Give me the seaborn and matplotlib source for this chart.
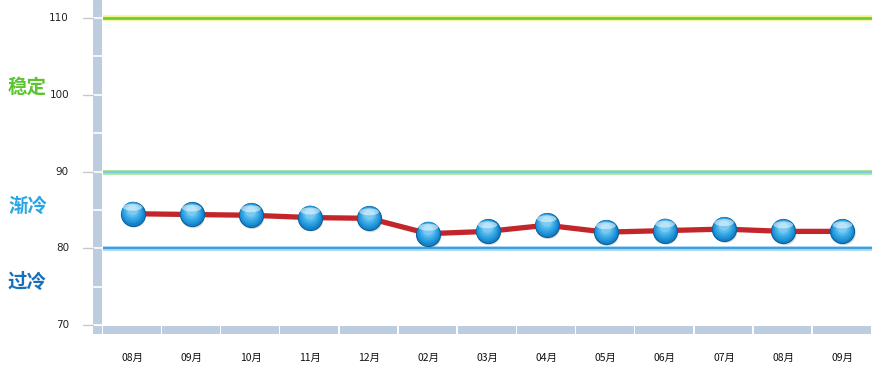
import numpy as np
import pandas as pd
import matplotlib
matplotlib.use("Agg")
import matplotlib.pyplot as plt
import matplotlib.transforms as mtransforms
from matplotlib.patches import Rectangle
import seaborn as sns

months = ["08月", "09月", "10月", "11月", "12月", "02月", "03月", "04月", "05月", "06月", "07月", "08月", "09月"]
values = [84.5, 84.4, 84.3, 84.0, 83.9, 81.9, 82.2, 83.0, 82.1, 82.3, 82.5, 82.2, 82.2]
y_ticks = [70, 80, 90, 100, 110]
zone_labels = ["稳定", "渐冷", "过冷"]
zone_values = [101, 85.5, 75.5]
zone_colors = ["#5cc431", "#29a6e3", "#1a70b8"]

sns.set_theme(style="white")
plt.rcParams['font.family'] = ['Noto Sans CJK SC', 'DejaVu Sans']

W, H = 885, 379
fig = plt.figure(figsize=(W / 100, H / 100), dpi=100)
ax = fig.add_axes([103 / W, (H - 325) / H, 769 / W, 325 / H])
ax.set_xlim(-0.5, len(months) - 0.5)
ax.set_ylim(70, 112.35)
for s in ax.spines.values():
    s.set_visible(False)
ax.set_xticks([])
ax.set_yticks([])
ax.patch.set_alpha(0)

band = "#bccddf"
def px_rect(x0, y0, x1, y1, color):
    fig.add_artist(Rectangle((x0 / W, (H - y1) / H), (x1 - x0) / W, (y1 - y0) / H,
                             transform=fig.transFigure, facecolor=color, edgecolor="none", zorder=-1))

# left band and corner
px_rect(93, 0, 102, 325, band)
px_rect(93, 326, 102, 334, band)
# bottom segments
n = len(months)
seg = 769 / n
for i in range(n):
    px_rect(103 + i * seg, 326, 103 + (i + 1) * seg - 1.5, 334, band)

# white lines across band and grey ticks
blend = mtransforms.blended_transform_factory(fig.transFigure, ax.transData)
for v in np.arange(70, 112, 5):
    ax.plot([93 / W, 102 / W], [v, v], transform=blend, color="white", lw=1.2, clip_on=False, zorder=3)
for v in y_ticks:
    ax.plot([83 / W, 93 / W], [v, v], transform=blend, color="#c8c8c8", lw=1, clip_on=False, zorder=3)
    ax.text(69 / W, v, str(v), transform=blend, ha="right", va="center", fontsize=7.5, color="#222222",
            family=["DejaVu Sans"])

# reference lines
ax.axhline(110, color="#f3f38a", lw=4, zorder=1)
ax.axhline(110, color="#6ccf3e", lw=2, zorder=2)
ax.axhline(90, color="#a9e6a0", lw=3.5, zorder=1)
ax.axhline(90, color="#7ccce0", lw=1.5, zorder=2)
ax.axhline(80, color="#a8d8f5", lw=3.5, zorder=1)
ax.axhline(80, color="#3f9fde", lw=1.5, zorder=2)

# zone labels
for lab, v, c in zip(zone_labels, zone_values, zone_colors):
    ax.text(8 / W, v, lab, transform=blend, ha="left", va="center", fontsize=14, fontweight="bold", color=c)

# month labels
for i, m in enumerate(months):
    ax.text(i, -0.1, m, transform=mtransforms.blended_transform_factory(ax.transData, ax.transAxes),
            ha="center", va="center", fontsize=7.5, color="#111111")

df = pd.DataFrame({"idx": np.arange(n), "value": values})

sns.lineplot(data=df, x="idx", y="value", ax=ax, color="#c3262a", lw=3.8, zorder=4,
             solid_joinstyle="round", solid_capstyle="round")
ax.set_xlabel("")
ax.set_ylabel("")

# shadow
sns.scatterplot(data=df, x="idx", y="value", ax=ax, s=290, color="#555555", alpha=0.22,
                edgecolor="none", zorder=5, legend=False)
coll = ax.collections[-1]
coll.set_offset_transform(ax.transData + mtransforms.ScaledTranslation(1.5 / 100, -2 / 100, fig.dpi_scale_trans))

# sphere base
sns.scatterplot(data=df, x="idx", y="value", ax=ax, s=300, color="#1582c8", edgecolor="#0e5f98",
                linewidth=0.8, zorder=6, legend=False)
# gradient layers
grad = [("#1e90d6", 250, 1.0), ("#2a9ddf", 200, 1.6), ("#3aaae6", 150, 2.2), ("#55b9ec", 100, 2.8),
        ("#79caf2", 55, 3.4)]
for col, size, dy in grad:
    sns.scatterplot(data=df, x="idx", y="value", ax=ax, s=size, color=col, edgecolor="none", zorder=7,
                    legend=False)
    c = ax.collections[-1]
    c.set_offset_transform(ax.transData + mtransforms.ScaledTranslation(0, dy / 100, fig.dpi_scale_trans))
# highlight
sns.scatterplot(data=df, x="idx", y="value", ax=ax, s=70, color="white", alpha=0.5, edgecolor="none",
                marker=matplotlib.markers.MarkerStyle("o", transform=mtransforms.Affine2D().scale(1.7, 0.6)),
                zorder=8, legend=False)
c = ax.collections[-1]
c.set_offset_transform(ax.transData + mtransforms.ScaledTranslation(0, 6.5 / 100, fig.dpi_scale_trans))

ax.set_xlim(-0.5, n - 0.5)
ax.set_ylim(70, 112.35)
fig.savefig("out.png", dpi=100)
